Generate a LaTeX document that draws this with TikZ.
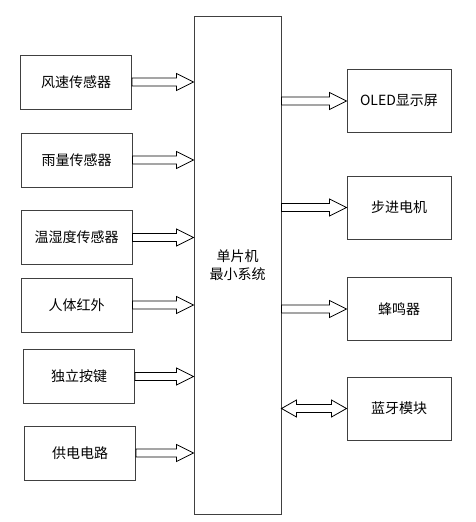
\documentclass[tikz,border=0pt]{standalone}
\usepackage{fontspec}
\setmainfont{Noto Sans CJK SC}
\usetikzlibrary{calc}

\begin{document}
\begin{tikzpicture}[
                        x=1pt, y=-1pt,
                        block/.style={rectangle, draw=black!75, line width=1pt, inner sep=0pt,
                                      font=\fontsize{14}{18}\selectfont},
                        inbox/.style={block, minimum width=111pt, minimum height=54pt},
                        outbox/.style={block, minimum width=104pt, minimum height=63pt},
                        fatarrow/.style={draw=black, line width=0.8pt, fill=white, line join=miter}
                    ]
                    \useasboundingbox (0,0) rectangle (475,522);

                    % Blocks
                    \node [block, minimum width=87pt, minimum height=498pt, align=center] (mcu) at (237.5,265) {单片机\\最小系统};

                    \node [inbox] (wind)  at (76,82)    {风速传感器};
                    \node [inbox] (rain)  at (76.5,160) {雨量传感器};
                    \node [inbox] (humid) at (76.5,237.5) {温湿度传感器};
                    \node [inbox] (pir)   at (76.5,305) {人体红外};
                    \node [inbox] (key)   at (79,376.5) {独立按键};
                    \node [inbox] (power) at (80,453)   {供电电路};

                    \node [outbox] (oled)  at (399,101)   {OLED显示屏};
                    \node [outbox] (motor) at (399,207.5) {步进电机};
                    \node [outbox] (buzz)  at (399,309)   {蜂鸣器};
                    \node [outbox] (ble)   at (399,408.5) {蓝牙模块};

                    % Connections
                    \foreach \src in {wind,rain,humid,pir,key,power}
                        \draw [fatarrow] ($(\src.east)+(0,-4)$) -- ($(mcu.west |- \src.east)+(-17,-4)$) -- ++(0,-4.5)
                            -- (mcu.west |- \src.east) -- ++(-17,8.5) -- ++(0,-4.5) -- ($(\src.east)+(0,4)$) -- cycle;
                    \foreach \dst in {oled,motor,buzz}
                        \draw [fatarrow] ($(mcu.east |- \dst.west)+(0,-4)$) -- ($(\dst.west)+(-17,-4)$) -- ++(0,-4.5)
                            -- (\dst.west) -- ++(-17,8.5) -- ++(0,-4.5) -- ($(mcu.east |- \dst.west)+(0,4)$) -- cycle;
                    \draw [fatarrow] (mcu.east |- ble.west) -- ++(15,-8.5) -- ++(0,4.5) -- ($(ble.west)+(-15,-4)$) -- ++(0,-4.5)
                        -- (ble.west) -- ++(-15,8.5) -- ++(0,-4.5) -- ($(mcu.east |- ble.west)+(15,4)$) -- ++(0,4.5) -- cycle;
                \end{tikzpicture}
\end{document}
